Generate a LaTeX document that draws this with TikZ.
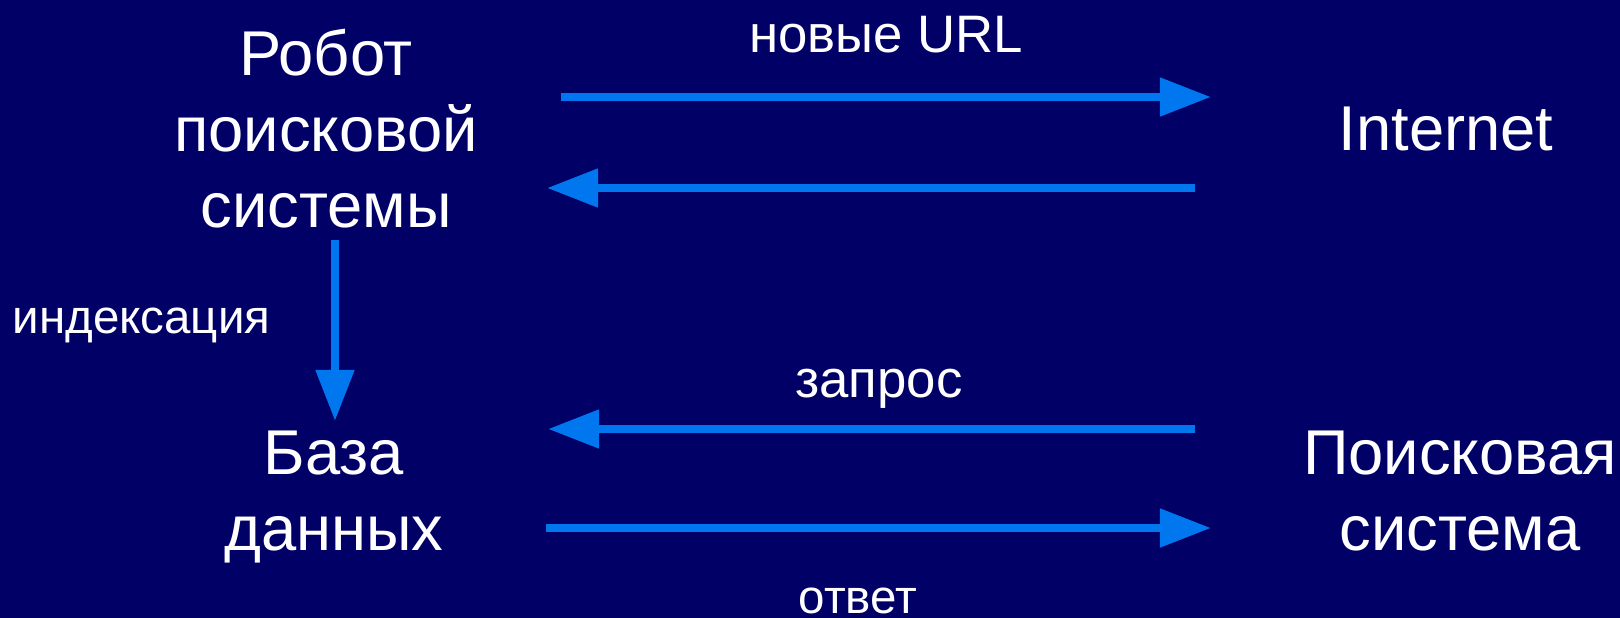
\documentclass[tikz,border=0pt]{standalone}
\usepackage{fontspec}
\setmainfont{Liberation Sans}
\usetikzlibrary{arrows.meta}
\definecolor{navy}{RGB}{0,0,102}
\definecolor{flow}{RGB}{0,119,238}
\begin{document}
\begin{tikzpicture}[x=0.01cm,y=-0.01cm,
    big/.style={text=white,font=\fontsize{18}{21.6}\selectfont,align=center,anchor=base,inner sep=0pt},
    small/.style={text=white,font=\fontsize{13.5}{16}\selectfont,anchor=base,inner sep=0pt},
    mid/.style={small,font=\fontsize{15}{18}\selectfont},
    link/.style={draw=flow,line width=0.08cm,-{Triangle[length=0.51cm,width=0.37cm]}}]
  \fill[navy] (0,0) rectangle (1620,618);
  \useasboundingbox (0,0) rectangle (1620,618);
  \draw
    (326,227) node[big] (robot){Робот\\поисковой\\системы}
    (1446,150) node[big] (internet){Internet}
    (334,550) node[big] (db){База\\данных}
    (1460,550) node[big] (search){Поисковая\\система}
    (886,52) node[mid] (newurl){новые URL}
    (879,397) node[mid] (query){запрос}
    (858,613) node[small] (answer){ответ}
    (12,333) node[small,anchor=base west] (index){индексация};
  \coordinate (a1) at (561,97);
  \coordinate (b1) at (1211,97);
  \coordinate (a2) at (1195,188);
  \coordinate (b2) at (547,188);
  \coordinate (a3) at (1195,429);
  \coordinate (b3) at (548,429);
  \coordinate (a4) at (546,528);
  \coordinate (b4) at (1211,528);
  \coordinate (a5) at (335,240);
  \coordinate (b5) at (335,421);
  \begin{scope}[link]
    \draw (a1) to (b1);
    \draw (a2) to (b2);
    \draw (a3) to (b3);
    \draw (a4) to (b4);
    \draw (a5) to (b5);
  \end{scope}
\end{tikzpicture}
\end{document}
